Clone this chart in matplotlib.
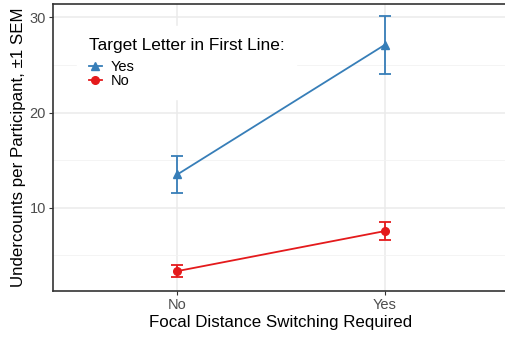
import numpy as np
import matplotlib.pyplot as plt
from matplotlib.lines import Line2D
from matplotlib.ticker import MultipleLocator

plt.rcParams['font.family'] = ['Liberation Sans', 'DejaVu Sans']

# data
x_labels = ['No', 'Yes']
yes_mean = [13.5, 27.1]
yes_sem = [1.95, 3.05]
no_mean = [3.35, 7.55]
no_sem = [0.6, 0.95]

blue = '#377EB8'
red = '#E41A1C'

fig = plt.figure(figsize=(5.05, 3.37), dpi=100)
ax = fig.add_axes([53 / 505, 46 / 337, 456 / 505, 287 / 337])

x = np.arange(1, len(x_labels) + 1)
ax.errorbar(x, yes_mean, yerr=yes_sem, color=blue, marker='^', markersize=6,
            lw=1.3, capsize=4, capthick=1.3, elinewidth=1.3, zorder=3)
ax.errorbar(x, no_mean, yerr=no_sem, color=red, marker='o', markersize=5.5,
            lw=1.3, capsize=4, capthick=1.3, elinewidth=1.3, zorder=3)

ax.set_xlim(0.4, 2.6)
ax.set_ylim(1.26, 31.4)
ax.set_xticks(x)
ax.set_xticklabels(x_labels)
ax.set_yticks([10, 20, 30])
ax.yaxis.set_minor_locator(MultipleLocator(5))

ax.grid(True, which='major', color='#EBEBEB', lw=1.1, zorder=0)
ax.grid(True, which='minor', axis='y', color='#F2F2F2', lw=0.6, zorder=0)
ax.set_axisbelow(True)

for s in ax.spines.values():
    s.set_color('#333333')
    s.set_linewidth(1.2)
ax.tick_params(which='major', length=3, color='#333333', labelcolor='#4D4D4D',
               labelsize=10.5, pad=2)
ax.tick_params(which='minor', length=0)

ax.set_xlabel('Focal Distance Switching Required', fontsize=12.2, labelpad=2)
ax.set_ylabel('Undercounts per Participant, \u00b11 SEM', fontsize=12.2, labelpad=3)

handles = [Line2D([], [], color=blue, marker='^', markersize=6, lw=1.3),
           Line2D([], [], color=red, marker='o', markersize=5.5, lw=1.3)]
leg = ax.legend(handles, ['Yes', 'No'], title='Target Letter in First Line:',
                loc='upper left', bbox_to_anchor=(0.037, 0.948), frameon=True,
                fancybox=False, edgecolor='white', framealpha=1,
                fontsize=10.5, title_fontsize=12.4, handlelength=0.9,
                handletextpad=0.6, labelspacing=0.0, borderpad=0.8)
leg._legend_box.align = 'left'
leg._legend_box.sep = 5
leg.set_zorder(2.5)

fig.savefig('out.png', dpi=100)
